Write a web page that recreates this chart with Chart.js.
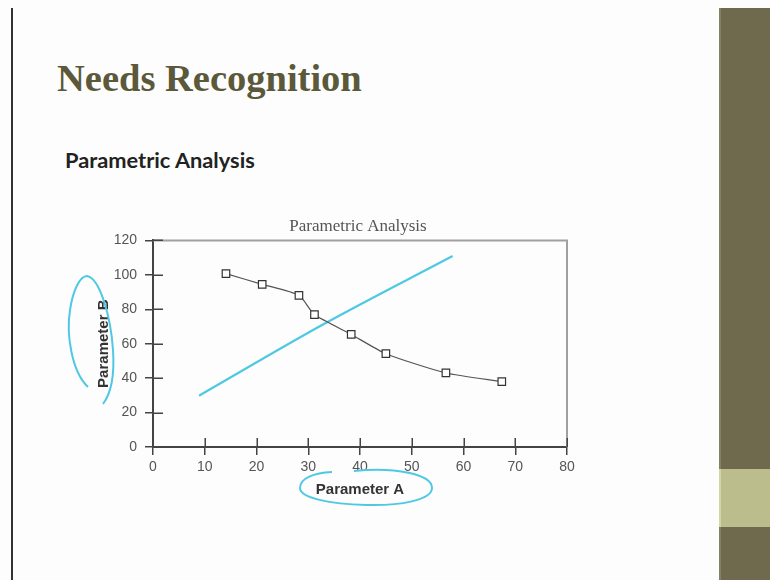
<!DOCTYPE html>
<html>
<head>
<meta charset="utf-8">
<script src="https://cdn.jsdelivr.net/npm/chart.js@4/dist/chart.umd.min.js"></script>
<style>
  html,body{margin:0;padding:0;background:#fdfdfd;}
  body{width:770px;height:580px;position:relative;overflow:hidden;}
  #leftline{position:absolute;left:11px;top:8px;width:2px;height:572px;background:#333;}
  #bar{position:absolute;left:719px;top:8px;width:51px;height:572px;background:#6f6a4e;border-left:2px solid #848064;box-sizing:border-box;}
  #box{position:absolute;left:719px;top:469px;width:51px;height:58px;background:#bcbd8c;border-left:2px solid #d2d6a4;box-sizing:border-box;}
  #title{position:absolute;left:57px;top:56px;margin:0;font-family:"Liberation Serif",serif;font-weight:bold;font-size:38.5px;color:#5b5939;white-space:nowrap;}
  #subtitle{position:absolute;left:65px;top:146px;margin:0;font-family:Lato,"Noto Sans",sans-serif;font-weight:bold;font-size:21.8px;color:#222;white-space:nowrap;}
  #chartwrap{position:absolute;left:60px;top:205px;width:596px;height:300px;}
  #ink{position:absolute;left:0;top:0;pointer-events:none;}
</style>
</head>
<body>
<div id="leftline"></div>
<div id="bar"></div>
<div id="box"></div>
<h1 id="title">Needs Recognition</h1>
<h2 id="subtitle">Parametric Analysis</h2>
<div id="chartwrap"><canvas id="c" width="596" height="300"></canvas></div>
<svg id="ink" width="770" height="580">
  <path d="M 88 387 C 72 372, 66 335, 70 310 C 73 290, 80 276, 87 276 C 100 278, 111 318, 113 350 C 115 380, 109 396, 103 404" fill="none" stroke="#4fc9e3" stroke-width="2"/>
  <path d="M 354 471 C 395 467, 432 474, 432 488 C 432 500, 400 506, 366 505 C 330 504, 300 498, 300 488 C 300 478, 314 473, 332 472" fill="none" stroke="#4fc9e3" stroke-width="2"/>
</svg>
<script>
// Data
const paramA = [14.1, 21.1, 28.2, 31.2, 38.3, 45.0, 56.6, 67.4];
const paramB = [100.7, 94.5, 88.1, 76.9, 65.4, 54.2, 43.0, 38.0];
// hand-drawn cyan line over the chart
const penA = [8.9, 33.2, 57.9];
const penB = [29.8, 71.7, 110.9];
const xTicks = [0, 10, 20, 30, 40, 50, 60, 70, 80];
const yTicks = [0, 20, 40, 60, 80, 100, 120];

const seriesPts = paramA.map((a, i) => ({x: a, y: paramB[i]}));
const penPts = penA.map((a, i) => ({x: a, y: penB[i]}));

const framePlugin = {
  id: 'frame',
  afterDatasetsDraw(chart) {
    const {ctx, chartArea: a, scales: {x, y}} = chart;
    ctx.save();
    ctx.strokeStyle = '#a0a0a0';
    ctx.lineWidth = 2;
    ctx.beginPath();
    ctx.moveTo(a.left, a.top);
    ctx.lineTo(a.right, a.top);
    ctx.lineTo(a.right, a.bottom);
    ctx.stroke();
    ctx.strokeStyle = '#444';
    ctx.lineWidth = 1.5;
    ctx.beginPath();
    x.ticks.forEach(t => {
      const px = Math.round(x.getPixelForValue(t.value)) + 0.25;
      ctx.moveTo(px, a.bottom);
      ctx.lineTo(px, a.bottom - 9);
    });
    y.ticks.forEach(t => {
      const py = Math.round(y.getPixelForValue(t.value)) + 0.25;
      ctx.moveTo(a.left, py);
      ctx.lineTo(a.left + 10, py);
    });
    ctx.stroke();
    ctx.restore();
  }
};

new Chart(document.getElementById('c'), {
  type: 'scatter',
  data: {
    datasets: [
      {
        label: 'Parameter B',
        data: seriesPts,
        showLine: true,
        borderColor: '#555',
        borderWidth: 1.2,
        tension: 0.2,
        pointStyle: 'rect',
        pointRadius: 5.3,
        pointBorderWidth: 1.2,
        pointBorderColor: '#333',
        pointBackgroundColor: '#fff'
      },
      {
        label: 'pen',
        data: penPts,
        showLine: true,
        borderColor: '#4fc9e3',
        borderWidth: 2.2,
        tension: 0.35,
        pointRadius: 0
      }
    ]
  },
  options: {
    responsive: false,
    animation: false,
    layout: {padding: {left: 0, right: 0, top: 0, bottom: 0}},
    plugins: {
      legend: {display: false},
      tooltip: {enabled: false},
      title: {
        display: true,
        text: 'Parametric Analysis',
        color: '#555',
        font: {family: '"Liberation Serif", serif', size: 17, weight: 'normal'},
        padding: {top: 11, bottom: 4}
      }
    },
    scales: {
      x: {
        type: 'linear', min: 0, max: 80,
        afterBuildTicks(s) { s.ticks = xTicks.map(v => ({value: v})); },
        ticks: {color: '#555', font: {family: '"Liberation Sans", Arial', size: 14}, padding: 4},
        grid: {drawOnChartArea: false, tickLength: 8, color: '#444', lineWidth: 1.5},
        border: {color: '#444', width: 2},
        title: {display: true, text: 'Parameter A', color: '#333',
          font: {family: '"Liberation Sans", Arial', size: 15, weight: 'bold'},
          padding: {top: 0, bottom: 6}},
        afterFit(s) { s.height = 58; }
      },
      y: {
        type: 'linear', min: 0, max: 120,
        afterBuildTicks(s) { s.ticks = yTicks.map(v => ({value: v})); },
        ticks: {color: '#555', font: {family: '"Liberation Sans", Arial', size: 14}, padding: 8},
        grid: {drawOnChartArea: false, tickLength: 8, color: '#444', lineWidth: 1.5},
        border: {color: '#444', width: 2},
        title: {display: true, text: 'Parameter B', color: '#333',
          font: {family: '"Liberation Sans", Arial', size: 15, weight: 'bold'},
          padding: {top: 35, bottom: 0}},
        afterFit(s) { s.width = 93; }
      },
      yPad: {
        type: 'linear', position: 'right', min: 0, max: 120,
        ticks: {display: false},
        grid: {display: false},
        border: {display: false},
        afterFit(s) { s.width = 89; }
      }
    }
  },
  plugins: [framePlugin]
});
</script>
</body>
</html>
